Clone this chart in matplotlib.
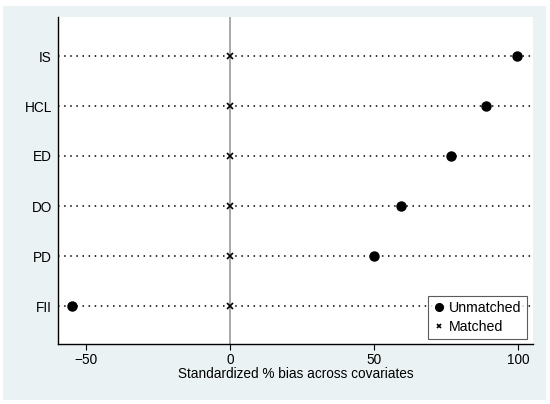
import matplotlib
matplotlib.use('Agg')
import matplotlib.pyplot as plt
from matplotlib.patches import Rectangle

plt.rcParams['font.family'] = ['Liberation Sans', 'DejaVu Sans']

# covariates, bottom to top
covariates = ['FII', 'PD', 'DO', 'ED', 'HCL', 'IS']
unmatched = [-54.9, 50.1, 59.4, 76.7, 88.9, 99.5]
matched = [0.0, 0.0, 0.0, 0.0, 0.0, 0.0]
xticks = [-50, 0, 50, 100]

fs = 9.8

fig = plt.figure(figsize=(5.5, 4.04), dpi=100)
fig.patch.set_facecolor('white')
# stata style light background panel
fig.patches.append(Rectangle((3 / 550, 4 / 404), 543 / 550, 394 / 404,
                             transform=fig.transFigure, facecolor='#eaf2f3',
                             edgecolor='none', zorder=-10))

ax = fig.add_axes([58 / 550, 1 - 344 / 404, 475 / 550, 327 / 404])
ax.set_zorder(1)
ax.set_facecolor('white')

ypos = list(range(len(covariates)))
for y in ypos:
    ax.axhline(y, color='black', linestyle=(0, (1, 3)), linewidth=1.1, zorder=1)
ax.axvline(0, color='#9a9a9a', linewidth=1.2, zorder=1)

ax.plot(unmatched, ypos, 'o', color='black', markersize=6.5,
        linestyle='none', label='Unmatched', zorder=3)
ax.plot(matched, ypos, 'x', color='black', markersize=4, markeredgewidth=1.2,
        linestyle='none', label='Matched', zorder=3)

ax.set_xlim(-59.7, 105.2)
ax.set_ylim(-0.76, 5.78)
ax.set_xticks(xticks)
ax.set_xticklabels([str(v).replace('-', '\u2212') for v in xticks])
ax.set_yticks(ypos)
ax.set_yticklabels(covariates)
ax.tick_params(axis='x', length=4, width=0.8, labelsize=fs, pad=2.5)
ax.tick_params(axis='y', length=0, labelsize=fs, pad=4.5)
ax.set_xlabel('Standardized % bias across covariates', fontsize=fs, labelpad=0)

for s in ['top', 'right']:
    ax.spines[s].set_visible(False)
for s in ['left', 'bottom']:
    ax.spines[s].set_linewidth(1.0)
    ax.spines[s].set_color('black')

leg = ax.legend(loc='lower right', bbox_to_anchor=(0.987, 0.015), fontsize=10.2,
                frameon=True, fancybox=False, edgecolor='#333333',
                handletextpad=0.35, handlelength=0.8, borderpad=0.35,
                labelspacing=0.35, borderaxespad=0, markerscale=0.85)
leg.get_frame().set_linewidth(0.8)

fig.savefig('out.png', dpi=100, facecolor=fig.get_facecolor())
